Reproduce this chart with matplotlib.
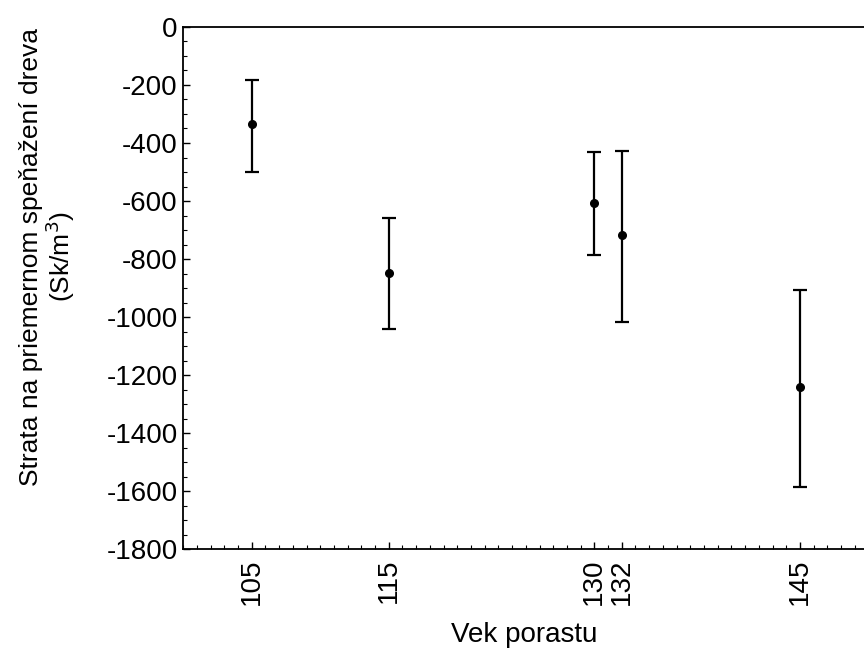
import matplotlib
matplotlib.use("Agg")
import matplotlib.pyplot as plt
from matplotlib.ticker import MultipleLocator

plt.rcParams["font.family"] = ["Liberation Sans", "DejaVu Sans"]
plt.rcParams["axes.unicode_minus"] = False

# stand age and loss on average wood price (Sk/m3)
ages = [105, 115, 130, 132, 145]
means = [-335, -848, -607, -717, -1241]
upper = [-183, -659, -431, -427, -907]
lower = [-500, -1041, -786, -1017, -1586]

err_low = [m - lo for m, lo in zip(means, lower)]
err_high = [hi - m for m, hi in zip(means, upper)]

fig = plt.figure(figsize=(8.64, 6.57), dpi=100)
ax = fig.add_axes([0.212, 0.164, 0.79, 0.795])

ax.errorbar(ages, means, yerr=[err_low, err_high], fmt="o", color="black",
            markersize=5.5, elinewidth=1.6, capsize=5, capthick=1.6)

ax.set_xlim(100, 149.8)
ax.set_ylim(-1800, 0)
ax.set_xticks(ages)
ax.set_xticklabels([str(a) for a in ages], rotation=90, fontsize=20)
ax.xaxis.set_minor_locator(MultipleLocator(1))
ax.yaxis.set_major_locator(MultipleLocator(200))
ax.yaxis.set_minor_locator(MultipleLocator(50))
ax.tick_params(axis="y", labelsize=20, direction="in", length=5, width=1, pad=4)
ax.tick_params(axis="x", direction="in", length=5, width=1, pad=7)
ax.tick_params(which="minor", direction="in", length=3, width=0.8)

ax.spines["right"].set_visible(False)
for s in ("left", "bottom", "top"):
    ax.spines[s].set_linewidth(1.3)

ax.set_xlabel("Vek porastu", fontsize=20, labelpad=12)
ax.set_ylabel("Strata na priemernom speňažení dreva\n(Sk/m$^3$)", fontsize=19,
              linespacing=1.05)
ax.yaxis.set_label_coords(-0.155, 0.56)

fig.savefig("out.png", dpi=100)
